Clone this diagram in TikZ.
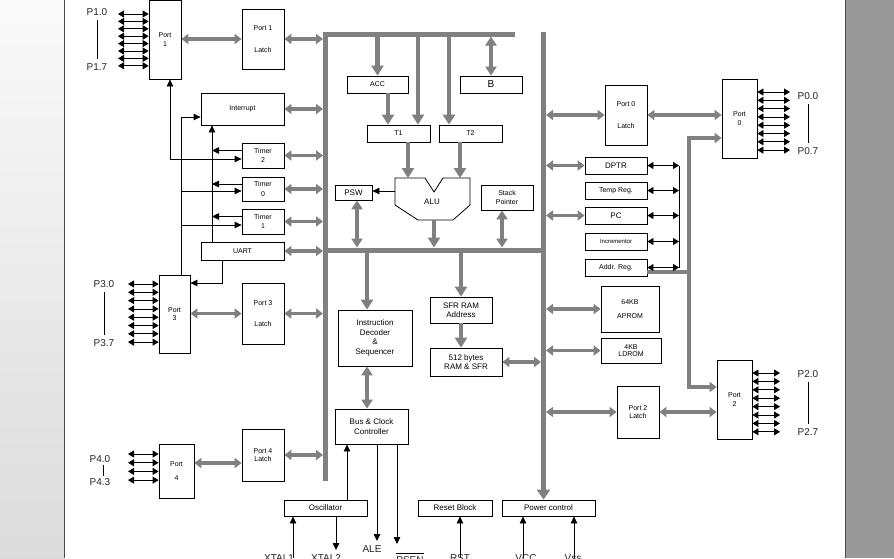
\documentclass[tikz,border=0pt]{standalone}
\usepackage{fontspec}
\setmainfont{Liberation Sans}
\usetikzlibrary{arrows.meta}

\definecolor{busgray}{RGB}{128,128,128}
\definecolor{panelgray}{RGB}{153,153,153}

\tikzset{
  blk/.style={draw, line width=0.8pt, inner sep=0pt, align=center, font=\fontsize{7}{8.5}\selectfont},
  big/.style={font=\fontsize{8}{9.5}\selectfont},
  bus/.style={draw=busgray, line width=5pt},
  gbus/.style={draw=busgray, line width=3.5pt, {Triangle[length=7pt,width=10pt]}-{Triangle[length=7pt,width=10pt]}},
  gone/.style={draw=busgray, line width=4.5pt, -{Triangle[length=10pt,width=12pt]}},
  gline/.style={draw=busgray, line width=3.5pt},
  sig/.style={line width=0.8pt, -{Triangle[length=7pt,width=6.5pt]}},
  sigb/.style={line width=0.8pt, {Triangle[length=7pt,width=6.5pt]}-{Triangle[length=7pt,width=6.5pt]}},
  pin/.style={line width=0.8pt, {Triangle[length=6pt,width=7pt]}-{Triangle[length=6pt,width=7pt]}},
  plbl/.style={inner sep=0pt, font=\fontsize{10}{12}\selectfont, text=black!85},
}

\begin{document}
\begin{tikzpicture}[x=1pt, y=-1pt]
  \useasboundingbox (0,0) rectangle (894,558);

  % fondo
  \fill[white] (0,0) rectangle (894,558);
  \shade[top color=black!2, bottom color=black!14] (0,0) rectangle (64,558);
  \fill[panelgray] (845,0) rectangle (894,558);
  \draw[black!70, line width=1pt] (64,0) -- (64,558) (845,0) -- (845,558);

  % bloques de la izquierda
  \node[blk, minimum width=32pt, minimum height=79pt] (port1) at (165,39.5) {Port\\1};
  \node[blk, minimum width=42pt, minimum height=60pt] (p1latch) at (263,39) {Port 1\\[13pt]Latch};
  \node[blk, minimum width=83pt, minimum height=32pt] (intr) at (242.5,109) {Interrupt};
  \node[blk, minimum width=42pt, minimum height=25pt] (timer2) at (263,155.5) {Timer\\[1pt]2};
  \node[blk, minimum width=42pt, minimum height=24pt] (timer0) at (263,189) {Timer\\[1pt]0};
  \node[blk, minimum width=42pt, minimum height=25pt] (timer1) at (263,221.5) {Timer\\[1pt]1};
  \node[blk, minimum width=83pt, minimum height=18pt] (uart) at (242.5,251) {UART};
  \node[blk, minimum width=31pt, minimum height=78pt] (port3) at (174.5,314) {Port\\3};
  \node[blk, minimum width=42pt, minimum height=61pt] (p3latch) at (263,313.5) {Port 3\\[13pt]Latch};
  \node[blk, minimum width=35pt, minimum height=54pt] (port4) at (176.5,471) {Port\\[5pt]4};
  \node[blk, minimum width=42pt, minimum height=52pt] (p4latch) at (263,455) {Port 4\\Latch};

  % bloques del centro
  \node[blk, minimum width=61pt, minimum height=17pt] (acc) at (377.5,84.5) {ACC};
  \node[blk, minimum width=62pt, minimum height=17pt, font=\fontsize{10}{12}\selectfont] (regb) at (491,84.5) {B};
  \node[blk, minimum width=63pt, minimum height=17pt] (t1) at (398.5,133.5) {T1};
  \node[blk, minimum width=63pt, minimum height=17pt] (t2) at (470.5,133.5) {T2};
  \node[blk, big, minimum width=37pt, minimum height=15pt] (psw) at (353.5,192.5) {PSW};
  \node[blk, minimum width=52pt, minimum height=25pt] (sp) at (507,197.5) {Stack\\Pointer};
  \node[blk, big, minimum width=74pt, minimum height=56pt] (decoder) at (375,338) {Instruction\\Decoder\\\&\\Sequencer};
  \node[blk, big, minimum width=62pt, minimum height=26pt] (sfr) at (461,310) {SFR RAM\\Address};
  \node[blk, big, minimum width=72pt, minimum height=28pt] (ram) at (466,362) {512 bytes\\RAM \& SFR};
  \node[blk, big, minimum width=73pt, minimum height=35pt] (busclk) at (371.5,426.5) {Bus \& Clock\\Controller};
  \node[blk, big, minimum width=83pt, minimum height=16pt] (osc) at (325.5,508) {Oscillator};
  \node[blk, big, minimum width=74pt, minimum height=16pt] (reset) at (455,508) {Reset Block};
  \node[blk, big, minimum width=93pt, minimum height=16pt] (power) at (548.5,508) {Power control};

  % ALU
  \draw[line width=0.8pt] (395,178) -- (425,178) -- (434,192) -- (443,178) -- (470,178)
    -- (470,205) -- (453,220) -- (418,220) -- (395,205) -- cycle;
  \node[big] (alu) at (432,202) {ALU};
  \coordinate (aluT) at (0,178);
  \coordinate (aluB) at (434,220);
  \coordinate (aluL) at (395,191);

  % bloques de la derecha
  \node[blk, minimum width=42pt, minimum height=60pt] (p0latch) at (626,115) {Port 0\\[13pt]Latch};
  \node[blk, minimum width=35pt, minimum height=79pt] (port0) at (739.5,118.5) {Port\\0};
  \node[blk, big, minimum width=62pt, minimum height=17pt] (dptr) at (616,165.5) {DPTR};
  \node[blk, minimum width=62pt, minimum height=17pt] (temp) at (616,190.5) {Temp Reg.};
  \node[blk, minimum width=62pt, minimum height=17pt, font=\fontsize{6}{7}\selectfont] (incr) at (616,241.5) {Incrementor};
  \node[blk, big, minimum width=62pt, minimum height=17pt] (pc) at (616,215.5) {PC};
  \node[blk, minimum width=62pt, minimum height=17pt] (addr) at (616,267.5) {Addr. Reg.};
  \node[blk, minimum width=58pt, minimum height=46pt] (aprom) at (630,309) {64KB\\[5pt]APROM};
  \node[blk, minimum width=60pt, minimum height=25pt] (ldrom) at (631,350.5) {4KB\\[-1.5pt]LDROM};
  \node[blk, minimum width=42pt, minimum height=52pt] (p2latch) at (638,412) {Port 2\\Latch};
  \node[blk, minimum width=35pt, minimum height=79pt] (port2) at (734.5,399.5) {Port\\2};

  % buses
  \coordinate (lbE) at (323,0);
  \coordinate (rbx) at (543.5,0);
  \coordinate (rbE) at (546,0);
  \coordinate (rbW) at (541,0);
  \coordinate (mbT) at (0,247.5);
  \coordinate (mbB) at (0,252.5);
  \coordinate (tbB) at (0,36.5);
  \draw[bus] (325.5,481) -- (325.5,34) -- (515,34);
  \draw[bus] (325.5,250) -- (543.5,250);
  \draw[bus, -{Triangle[length=10pt,width=13pt]}] (543.5,32) -- (power.north -| rbx);

  % flechas grises
  \draw[gbus] (port1.east |- p1latch.west) -- (p1latch.west);
  \draw[gbus] (p1latch.east) -- (p1latch.east -| lbE);
  \draw[gbus] (intr.east) -- (intr.east -| lbE);
  \foreach \n in {timer2,timer0,timer1,uart,p3latch,p4latch}
    \draw[gbus] (\n.east) -- (\n.east -| lbE);
  \draw[gbus] (port3.east |- p3latch.west) -- (p3latch.west);
  \draw[gbus] ([yshift=8pt]port4.east) -- ([yshift=8pt]port4.east -| p4latch.west);

  \draw[gone] (acc.north |- tbB) -- (acc.north);
  \draw[gone] ([xshift=19.5pt]t1.north |- tbB) -- ([xshift=19.5pt]t1.north);
  \draw[gone] ([xshift=-21.5pt]t2.north |- tbB) -- ([xshift=-21.5pt]t2.north);
  \draw[gbus, {Triangle[length=9pt,width=11pt]}-{Triangle[length=9pt,width=11pt]}] (regb.north |- tbB) -- (regb.north);
  \draw[gone] ([xshift=10.5pt]acc.south) -- ([xshift=10.5pt]acc.south |- t1.north);
  \draw[gone] ([xshift=9.5pt]t1.south) -- ([xshift=9.5pt]t1.south |- aluT);
  \draw[gone] ([xshift=-10.5pt]t2.south) -- ([xshift=-10.5pt]t2.south |- aluT);
  \draw[gone] (aluB) -- (aluB |- mbT);
  \draw[gbus, {Triangle[length=9pt,width=11pt]}-{Triangle[length=9pt,width=11pt]}] ([xshift=3.5pt]psw.south) -- ([xshift=3.5pt]psw.south |- mbT);
  \draw[gbus, {Triangle[length=9pt,width=11pt]}-{Triangle[length=9pt,width=11pt]}] ([xshift=-5pt]sp.south) -- ([xshift=-5pt]sp.south |- mbT);
  \draw[gone] ([xshift=-8pt]decoder.north |- mbB) -- ([xshift=-8pt]decoder.north);
  \draw[gone] (sfr.north |- mbB) -- (sfr.north);
  \draw[gone] (sfr.south) -- (sfr.south |- ram.north);
  \draw[gbus] (ram.east) -- (ram.east -| rbW);
  \draw[gbus, {Triangle[length=9pt,width=11pt]}-{Triangle[length=9pt,width=11pt]}] ([xshift=-8pt]decoder.south) -- ([xshift=-8pt]decoder.south |- busclk.north);

  \foreach \n in {p0latch,dptr,pc,aprom,ldrom,p2latch}
    \draw[gbus] (rbE |- \n.west) -- (\n.west);
  \draw[gbus] (p0latch.east) -- (p0latch.east -| port0.west);
  \draw[gbus] (p2latch.east) -- (p2latch.east -| port2.west);
  \coordinate (jn) at (689,272);
  \draw[gline] (addr.east |- jn) -- (jn);
  \draw[gline, -{Triangle[length=7pt,width=10pt]}] (jn) |- ([yshift=-19.5pt]port0.west);
  \draw[gline, -{Triangle[length=7pt,width=10pt]}] (jn) |- ([yshift=12.5pt]port2.west);

  % registros
  \coordinate (rx) at (679,0);
  \foreach \n in {dptr,temp,pc,incr,addr}
    \draw[pin] (\n.east) -- (\n.east -| rx);
  \draw[line width=0.8pt] (dptr.east -| rx) -- (addr.east -| rx);

  % temporizadores e interrupciones
  \coordinate (t2in) at (170,159);
  \draw[sigb] (port1.south -| t2in) |- (timer2.west |- t2in);
  \coordinate (p3x) at (181,0);
  \draw[sig] (port3.north -| p3x) |- ([yshift=-8pt]intr.west);
  \draw[sig] ([yshift=-2pt]timer0.west -| p3x) -- ([yshift=-2pt]timer0.west);
  \draw[sig] ([yshift=-3.5pt]timer1.west -| p3x) -- ([yshift=-3.5pt]timer1.west);
  \coordinate (ix) at (212,0);
  \foreach \n in {timer2,timer0,timer1}
    \draw[sig] ([yshift=5pt]\n.west) -- ([yshift=5pt]\n.west -| ix);
  \draw[sig] (uart.north -| ix) -- (intr.south -| ix);
  \coordinate (ux) at (222,283);
  \draw[sig] (uart.south -| ux) |- (port3.east |- ux);
  \draw[sig] (aluL) -- (psw.east |- aluL);

  % pines de los puertos
  \foreach \i in {0,...,7} {
    \coordinate (q) at (118,{14+7.4*\i});
    \draw[pin] (q) -- (q -| port1.west);
    \coordinate (q) at (128,{284+8.3*\i});
    \draw[pin] (q) -- (q -| port3.west);
    \coordinate (q) at (790,{92+8.3*\i});
    \draw[pin] (q -| port0.east) -- (q);
    \coordinate (q) at (780,{373+8.4*\i});
    \draw[pin] (q -| port2.east) -- (q);
  }
  \foreach \i in {0,...,3} {
    \coordinate (q) at (128,{454+8.7*\i});
    \draw[pin] (q) -- (q -| port4.west);
  }

  \node[plbl] (p10) at (97,12) {P1.0};
  \node[plbl] (p17) at (97,67) {P1.7};
  \draw[line width=0.6pt] ([yshift=-4pt]p10.south) -- ([yshift=4pt]p17.north);
  \node[plbl] (p30) at (104,284) {P3.0};
  \node[plbl] (p37) at (104,343) {P3.7};
  \draw[line width=0.6pt] ([yshift=-4pt]p30.south) -- ([yshift=4pt]p37.north);
  \node[plbl] (p40) at (100,459) {P4.0};
  \node[plbl] (p43) at (100,482) {P4.3};
  \draw[line width=0.6pt] ([xshift=3pt,yshift=-2pt]p40.south) -- ([xshift=3pt,yshift=2pt]p43.north);
  \node[plbl] (p00) at (808,96) {P0.0};
  \node[plbl] (p07) at (808,151) {P0.7};
  \draw[line width=0.6pt] ([yshift=-4pt]p00.south) -- ([yshift=4pt]p07.north);
  \node[plbl] (p20) at (808,374) {P2.0};
  \node[plbl] (p27) at (808,432) {P2.7};
  \draw[line width=0.6pt] ([yshift=-4pt]p20.south) -- ([yshift=4pt]p27.north);

  % senales de abajo
  \coordinate (oscx) at (347,0);
  \draw[sig] (osc.north -| oscx) -- (busclk.south -| oscx);
  \coordinate (x1) at (293,558);
  \draw[sig] (x1) -- (x1 |- osc.south);
  \coordinate (x2) at (336,550);
  \draw[sig] (x2 |- osc.south) -- (x2);
  \coordinate (ale) at (377,541);
  \draw[sig] (ale |- busclk.south) -- (ale);
  \coordinate (psen) at (397,544);
  \draw[sig] (psen |- busclk.south) -- (psen);
  \coordinate (rst) at (460,558);
  \draw[sig] (rst) -- (rst |- reset.south);
  \coordinate (vcc) at (523,558);
  \draw[sig] (vcc) -- (vcc |- power.south);
  \coordinate (vss) at (574,558);
  \draw[sig] (vss) -- (vss |- power.south);

  \node[plbl, anchor=north] (xtal1) at (279,554) {XTAL1};
  \node[plbl, anchor=north] (xtal2) at (326,554) {XTAL2};
  \node[plbl, anchor=north] (alel) at (372,545) {ALE};
  \node[plbl, anchor=north] (psenl) at (410,556) {PSEN};
  \draw[line width=0.6pt] ([yshift=3pt]psenl.north west) -- ([yshift=3pt]psenl.north east);
  \node[plbl, anchor=north] (rstl) at (460,554) {RST};
  \node[plbl, anchor=north] (vccl) at (526,554) {VCC};
  \node[plbl, anchor=north] (vssl) at (573,554) {Vss};

\end{tikzpicture}
\end{document}
